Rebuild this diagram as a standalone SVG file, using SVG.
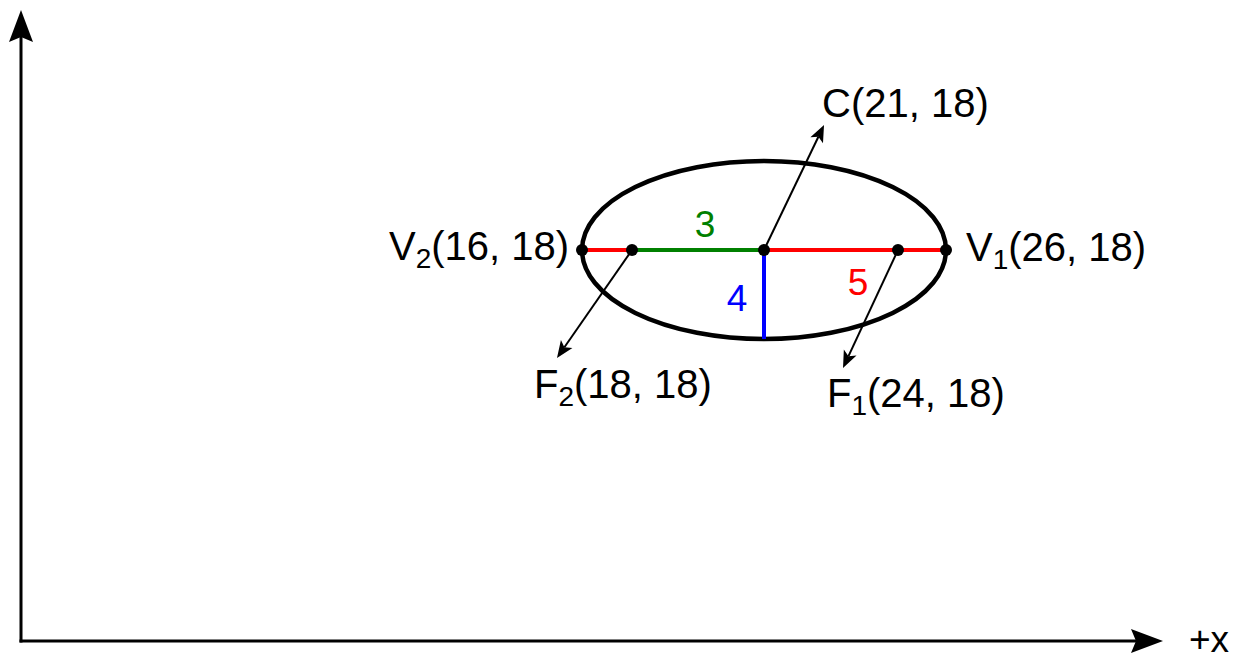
<svg xmlns="http://www.w3.org/2000/svg" width="1239" height="658" viewBox="0 0 1239 658">
<style>
text{font-family:"Liberation Sans",Arial,sans-serif;font-size:40px;fill:#000}
.sub{font-size:28px}
.axis{stroke:#000;stroke-width:3;fill:none}
.ptr{stroke:#000;stroke-width:2;fill:none}
.dot{fill:#000}
</style>
<defs>
<marker id="bigHead" markerUnits="userSpaceOnUse" orient="auto" viewBox="-6 -13 34 26" markerWidth="34" markerHeight="26" refX="0" refY="0" overflow="visible">
<path d="M27,0 L-5,-12 L0,0 L-5,12 Z" fill="#000"/>
</marker>
<marker id="smallHead" markerUnits="userSpaceOnUse" orient="auto" viewBox="-5 -8 19 16" markerWidth="19" markerHeight="16" refX="0" refY="0" overflow="visible">
<path d="M13,0 L-4,-7 L0,0 L-4,7 Z" fill="#000"/>
</marker>
</defs>
<g id="axes">
<line class="axis" x1="21" y1="642.5" x2="21" y2="37" marker-end="url(#bigHead)"/>
<line class="axis" x1="19.5" y1="641" x2="1136" y2="641" marker-end="url(#bigHead)"/>
<text x="1189" y="652" style="font-size:37px">+x</text>
</g>
<g id="ellipse">
<ellipse cx="764" cy="250" rx="182" ry="89" fill="none" stroke="#000" stroke-width="4.5"/>
</g>
<g id="segments">
<line x1="582" y1="250" x2="632" y2="250" stroke="#ff0000" stroke-width="4"/>
<line x1="632" y1="250" x2="764" y2="250" stroke="#008000" stroke-width="4"/>
<line x1="764" y1="250" x2="946" y2="250" stroke="#ff0000" stroke-width="4"/>
<line x1="764" y1="250" x2="764" y2="339" stroke="#0000ff" stroke-width="4"/>
<text x="705" y="237" text-anchor="middle" style="fill:#008000;font-size:37px">3</text>
<text x="737" y="311" text-anchor="middle" style="fill:#0000ff;font-size:37px">4</text>
<text x="858" y="295" text-anchor="middle" style="fill:#ff0000;font-size:37px">5</text>
</g>
<g id="connectors">
<line class="ptr" x1="764" y1="250" x2="818.4" y2="136.7" marker-end="url(#smallHead)"/>
<line class="ptr" x1="632" y1="250" x2="564.4" y2="347.3" marker-end="url(#smallHead)"/>
<line class="ptr" x1="898" y1="250" x2="848.5" y2="356.2" marker-end="url(#smallHead)"/>
</g>
<g id="node-V2">
<circle class="dot" cx="582" cy="250" r="6"/>
<text x="389" y="260">V<tspan class="sub" dy="8">2</tspan><tspan dy="-8">(16, 18)</tspan></text>
</g>
<g id="node-F2">
<circle class="dot" cx="632" cy="250" r="6"/>
<text x="534" y="398">F<tspan class="sub" dy="8">2</tspan><tspan dy="-8">(18, 18)</tspan></text>
</g>
<g id="node-C">
<circle class="dot" cx="764" cy="250" r="6"/>
<text x="822" y="117">C(21, 18)</text>
</g>
<g id="node-F1">
<circle class="dot" cx="898" cy="250" r="6"/>
<text x="827" y="407">F<tspan class="sub" dy="8">1</tspan><tspan dy="-8">(24, 18)</tspan></text>
</g>
<g id="node-V1">
<circle class="dot" cx="946" cy="250" r="6"/>
<text x="966" y="261">V<tspan class="sub" dy="8">1</tspan><tspan dy="-8">(26, 18)</tspan></text>
</g>
</svg>
